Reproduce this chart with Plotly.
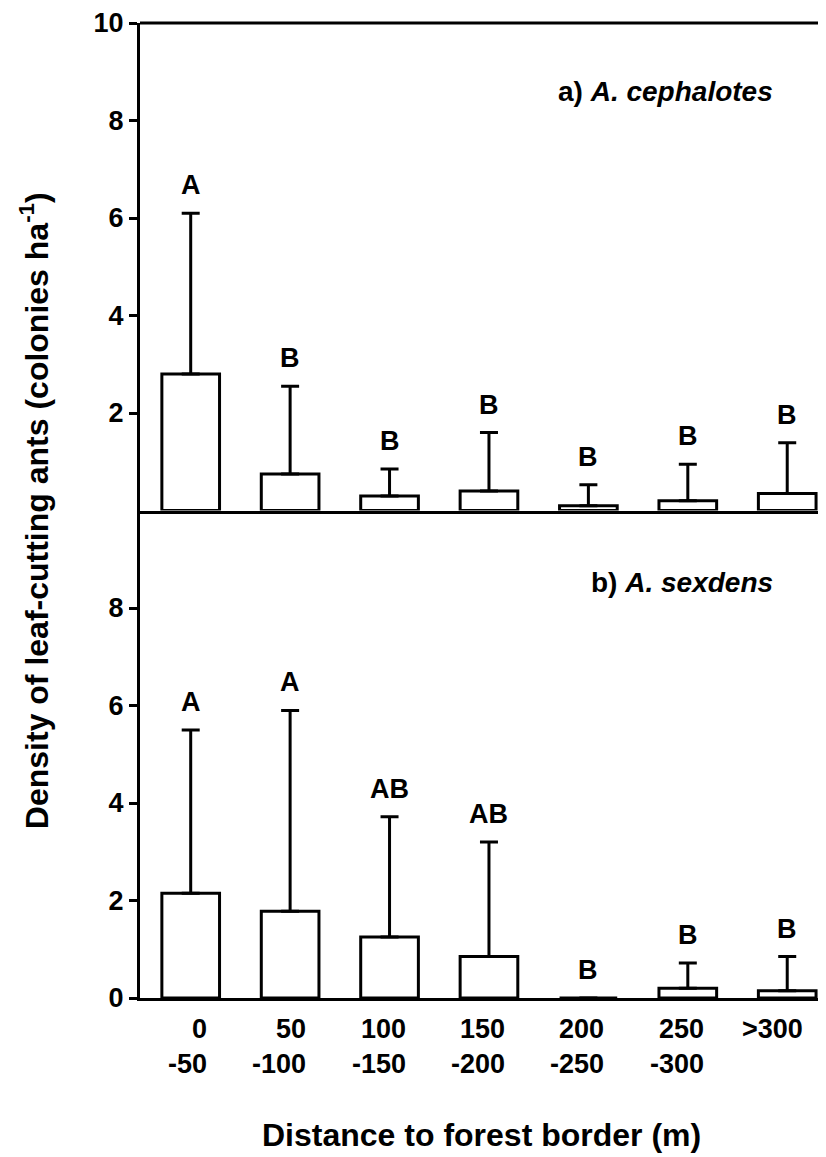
import plotly.graph_objects as go
from plotly.subplots import make_subplots

categories = ["0<br>-50", "50<br>-100", "100<br>-150", "150<br>-200", "200<br>-250", "250<br>-300", ">300"]
cephalotes_mean = [2.8, 0.75, 0.3, 0.4, 0.1, 0.2, 0.35]
cephalotes_upper = [6.1, 2.55, 0.85, 1.6, 0.53, 0.95, 1.39]
cephalotes_letters = ["A", "B", "B", "B", "B", "B", "B"]
sexdens_mean = [2.15, 1.78, 1.25, 0.85, 0.0, 0.2, 0.15]
sexdens_upper = [5.5, 5.9, 3.72, 3.2, 0.0, 0.72, 0.85]
sexdens_letters = ["A", "A", "AB", "AB", "B", "B", "B"]

FONT = "Liberation Sans, Arial, sans-serif"
xs = list(range(len(categories)))

fig = make_subplots(rows=2, cols=1, shared_xaxes=True, vertical_spacing=0.0)

def add_panel(mean, upper, row):
    err = [u - m for u, m in zip(upper, mean)]
    fig.add_trace(go.Bar(
        x=xs, y=mean, width=0.58,
        marker=dict(color="white", line=dict(color="black", width=3)),
        error_y=dict(type="data", array=err, arrayminus=[0]*len(err), symmetric=False,
                     color="black", thickness=3, width=9),
        showlegend=False, hoverinfo="skip"), row=row, col=1)

add_panel(cephalotes_mean, cephalotes_upper, 1)
add_panel(sexdens_mean, sexdens_upper, 2)

annotations = []
for i in xs:
    annotations.append(dict(x=i, y=cephalotes_upper[i], xref="x", yref="y", text="<b>%s</b>" % cephalotes_letters[i],
                            showarrow=False, yanchor="bottom", yshift=11, font=dict(size=27, color="black", family=FONT)))
    annotations.append(dict(x=i, y=sexdens_upper[i], xref="x2", yref="y2", text="<b>%s</b>" % sexdens_letters[i],
                            showarrow=False, yanchor="bottom", yshift=11, font=dict(size=27, color="black", family=FONT)))
    annotations.append(dict(x=i, y=-0.014, xref="x2", yref="paper", text="<b>%s</b>" % categories[i],
                            showarrow=False, xanchor="right", yanchor="top", align="right", xshift=18,
                            font=dict(size=27, color="black", family=FONT)))

annotations.append(dict(x=0.925, y=8.6, xref="paper", yref="y", text="<b>a) <i>A. cephalotes</i></b>",
                        showarrow=False, xanchor="right", yanchor="middle", font=dict(size=28, color="black", family=FONT)))
annotations.append(dict(x=0.925, y=8.52, xref="paper", yref="y2", text="<b>b) <i>A. sexdens</i></b>",
                        showarrow=False, xanchor="right", yanchor="middle", font=dict(size=28, color="black", family=FONT)))
annotations.append(dict(x=0.4985, y=-0.14, xref="paper", yref="paper", text="<b>Distance to forest border (m)</b>",
                        showarrow=False, xanchor="center", yanchor="middle", font=dict(size=32, color="black", family=FONT)))
annotations.append(dict(x=-0.155, y=0.5, xref="paper", yref="paper",
                        text="<b>Density of leaf-cutting ants (colonies ha<sup>-1</sup>)</b>", textangle=-90,
                        showarrow=False, xanchor="center", yanchor="middle", font=dict(size=32, color="black", family=FONT)))

fig.update_xaxes(range=[-0.51, 6.39], showline=True, linecolor="black", linewidth=3, ticks="",
                 showticklabels=False, showgrid=False, zeroline=False)
fig.update_yaxes(range=[0, 10], showline=True, linecolor="black", linewidth=3, ticks="outside", ticklen=8,
                 tickwidth=3, tickcolor="black", showgrid=False, zeroline=False, ticklabeloverflow="allow",
                 tickfont=dict(size=27, color="black", family=FONT))
fig.update_yaxes(tickvals=[2, 4, 6, 8, 10], ticktext=["<b>%d</b>" % v for v in [2, 4, 6, 8, 10]], row=1, col=1)
fig.update_yaxes(tickvals=[0, 2, 4, 6, 8], ticktext=["<b>%d</b>" % v for v in [0, 2, 4, 6, 8]], row=2, col=1)

fig.update_layout(
    width=818, height=1149,
    margin=dict(l=132, r=0, t=12, b=159),
    plot_bgcolor="white", paper_bgcolor="white",
    annotations=annotations,
    shapes=[dict(type="line", xref="paper", yref="paper", x0=0, x1=1, y0=1, y1=1,
                 line=dict(color="black", width=3))],
    bargap=0.3,
)
fig.write_html("out.html")
